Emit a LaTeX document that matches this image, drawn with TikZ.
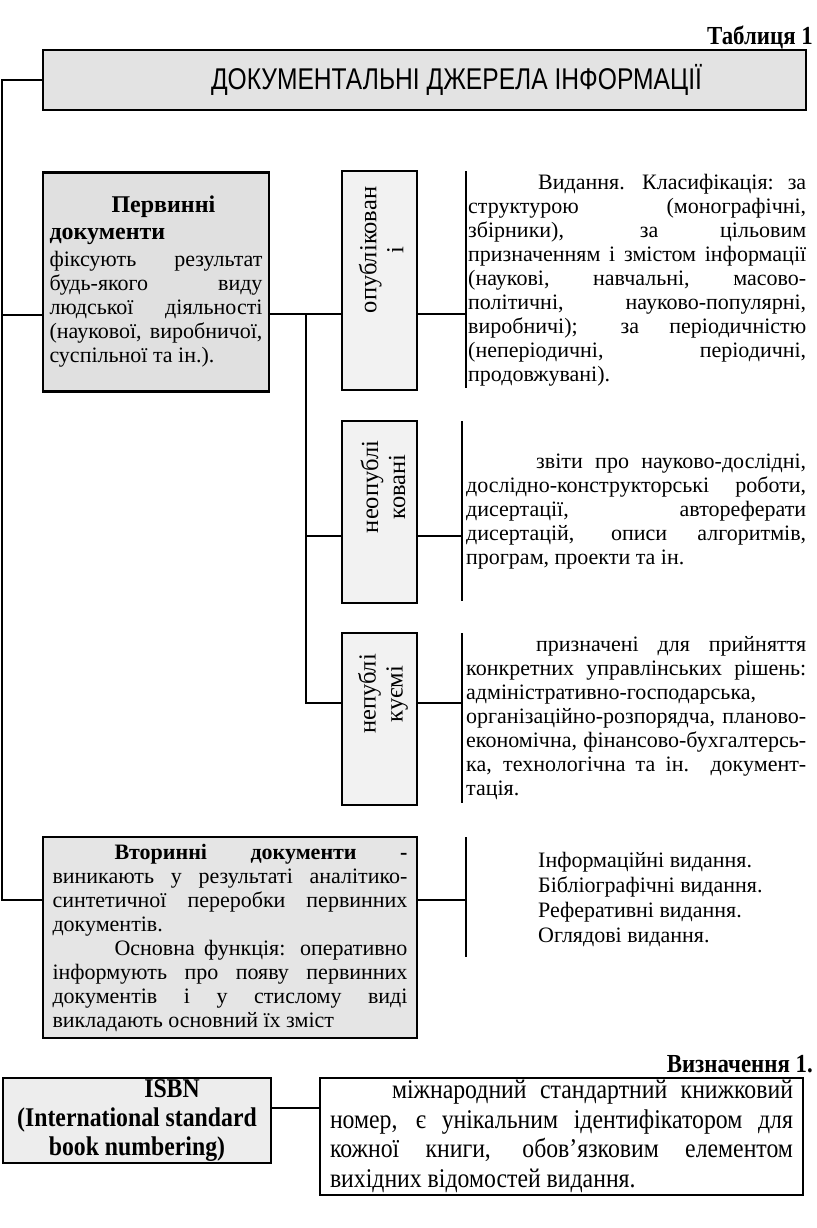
\documentclass[tikz,border=0pt]{standalone}
\usepackage{fontspec}
\setmainfont{Liberation Serif}
\newfontfamily\headfont[FakeStretch=0.82]{Liberation Sans}
\newfontfamily\narrowfont[FakeStretch=0.88]{Liberation Serif}
\definecolor{headgray}{gray}{0.89}
\definecolor{primgray}{gray}{0.88}
\definecolor{palegray}{gray}{0.95}
\definecolor{secgray}{gray}{0.9}
\definecolor{isbngray}{gray}{0.93}

\begin{document}
\begin{tikzpicture}[x=1pt,y=-1pt,
  box/.style={draw,line width=2.6pt,inner sep=0pt},
  link/.style={line width=2.3pt},
  body/.style={font=\fontsize{22}{24}\selectfont,align=justify,inner sep=0pt},
  vlabel/.style={rotate=90,align=center,inner sep=0pt,font=\fontsize{24.5}{27}\selectfont}]
  \useasboundingbox (0,0) rectangle (816,1228);

  \node[anchor=east,inner sep=0pt,font=\narrowfont\fontsize{26}{28}\selectfont\bfseries] (tabl) at (813,37) {Таблиця 1};
  \node[box,fill=headgray,minimum width=763,minimum height=60,align=center,font=\headfont\fontsize{30}{32}\selectfont] (head) at (424.5,80) {\hspace*{64pt}ДОКУМЕНТАЛЬНІ ДЖЕРЕЛА ІНФОРМАЦІЇ};

  \node[box,fill=primgray,body,text width=213,inner xsep=6.5,minimum height=219] (prim) at (156,282)
    {{\fontsize{24}{24}\selectfont\bfseries\hspace*{62pt}Первинні\\[3pt] документи}\\[3pt]
     фіксують результат\linebreak будь-якого виду\linebreak людської діяльності\linebreak (наукової, виробничої,\linebreak суспільної та ін.).};

  \node[box,fill=palegray,minimum width=75,minimum height=219] (publ) at (379.5,280.5) {};
  \node[vlabel] (publlbl) at (381,250) {опублікован\\і};
  \node[box,fill=palegray,minimum width=75,minimum height=182] (unpubl) at (379.5,512) {};
  \node[vlabel] (unpubllbl) at (383,487) {неопублі\\ковані};
  \node[box,fill=palegray,minimum width=75,minimum height=172] (nonpubl) at (379.5,719) {};
  \node[vlabel] (nonpubllbl) at (383,694) {непублі\\куємі};

  \node[body,anchor=west,text width=338] (publtxt) at (468,280)
    {\hspace*{70pt}Видання. Класифікація: за\linebreak структурою (монографічні,\linebreak збірники), за цільовим\linebreak призначенням і змістом інформації\linebreak (наукові, навчальні, масово-\linebreak політичні, науково-популярні,\linebreak виробничі); за періодичністю\linebreak (неперіодичні, періодичні,\linebreak продовжувані).};
  \node[body,anchor=west,text width=340] (unpubltxt) at (466,512)
    {\hspace*{70pt}звіти про науково-дослідні,\linebreak дослідно-конструкторські роботи,\linebreak дисертації, автореферати\linebreak дисертацій, описи алгоритмів,\linebreak програм, проекти та ін.};
  \node[body,anchor=west,text width=340] (nonpubltxt) at (466,718)
    {\hspace*{70pt}призначені для прийняття\linebreak конкретних управлінських рішень:\linebreak адміністративно-господарська,\\ організаційно-розпорядча, планово-\linebreak економічна, фінансово-бухгалтерсь-\linebreak ка, технологічна та ін. документ-\linebreak тація.};

  \node[box,fill=secgray,body,text width=355,inner xsep=9.5,minimum height=201] (sec) at (230,937.5)
    {\hspace*{62pt}{\bfseries Вторинні документи -}\linebreak виникають у результаті аналітико-\linebreak синтетичної переробки первинних\linebreak документів.\par
     \hspace*{62pt}Основна функція: оперативно\linebreak інформують про появу первинних\linebreak документів і у стислому виді\linebreak викладають основний їх зміст};
  \node[anchor=west,align=left,inner sep=0pt,font=\fontsize{22}{25}\selectfont] (sectxt) at (538,899)
    {Інформаційні видання.\\ Бібліографічні видання.\\ Реферативні видання.\\ Оглядові видання.};

  \node[anchor=east,inner sep=0pt,font=\narrowfont\fontsize{26}{28}\selectfont\bfseries] (defn) at (813,1064) {Визначення 1.};
  \node[box,fill=isbngray,minimum width=268,minimum height=85,align=center,font=\narrowfont\fontsize{27}{29}\selectfont\bfseries] (isbn) at (137,1120.5)
    {\hspace*{70pt}ISBN\\ (International standard\\ book numbering)};
  \node[box,fill=white,text width=463,inner xsep=10,minimum height=117,align=justify,font=\narrowfont\fontsize{27}{29.5}\selectfont] (isbndef) at (561.5,1136.5)
    {\hspace*{62pt}міжнародний стандартний книжковий\linebreak номер, є унікальним ідентифікатором для\linebreak кожної книги, обов’язковим елементом\linebreak вихідних відомостей видання.};

  \coordinate (jhead) at (2,80);
  \coordinate (jprim) at (2,315);
  \coordinate (jsec) at (2,900);
  \draw[link] (head.west) -- (jhead) -- (jsec) -- (jsec -| sec.west);
  \draw[link] (jprim) -- (jprim -| prim.west);

  \coordinate (bus1) at (306,314);
  \coordinate (bus2) at (306,536);
  \coordinate (bus3) at (306,703);
  \draw[link] (bus1 -| prim.east) -- (bus1 -| publ.west);
  \draw[link] (bus1) -- (bus3) -- (bus3 -| nonpubl.west);
  \draw[link] (bus2) -- (bus2 -| unpubl.west);

  \coordinate (pbtop) at (466,171);
  \coordinate (pbbot) at (466,388);
  \coordinate (ubtop) at (462,421);
  \coordinate (ubbot) at (462,601);
  \coordinate (nbtop) at (462,633);
  \coordinate (nbbot) at (462,803);
  \coordinate (sbtop) at (466,837);
  \coordinate (sbbot) at (466,957);
  \draw[link] (pbtop) -- (pbbot);
  \draw[link] (ubtop) -- (ubbot);
  \draw[link] (nbtop) -- (nbbot);
  \draw[link] (sbtop) -- (sbbot);
  \draw[link] (bus1 -| publ.east) -- (bus1 -| pbtop);
  \draw[link] (bus2 -| unpubl.east) -- (bus2 -| ubtop);
  \draw[link] (bus3 -| nonpubl.east) -- (bus3 -| nbtop);
  \draw[link] (jsec -| sec.east) -- (jsec -| sbtop);

  \coordinate (jisbn) at (137,1108);
  \draw[link] (jisbn -| isbn.east) -- (jisbn -| isbndef.west);
\end{tikzpicture}
\end{document}
